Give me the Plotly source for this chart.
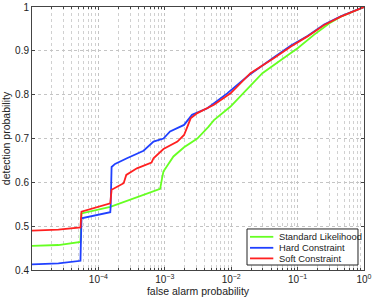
import plotly.graph_objects as go

# Standard Likelihood
fa_std = [1e-5, 2.5e-5, 5.37e-5, 5.56e-5, 1.51e-4, 6.03e-4, 8.51e-4, 9.12e-4, 9.55e-4,
          1.07e-3, 1.35e-3, 1.95e-3, 3.09e-3, 4.57e-3, 5.5e-3, 9.77e-3, 1.38e-2, 1.86e-2,
          2.95e-2, 5.62e-2, 0.1, 0.178, 0.302, 0.447, 0.708, 1.0]
pd_std = [0.455, 0.457, 0.464, 0.529, 0.544, 0.577, 0.585, 0.610, 0.625,
          0.636, 0.659, 0.680, 0.700, 0.727, 0.742, 0.773, 0.796, 0.818,
          0.849, 0.879, 0.906, 0.937, 0.963, 0.978, 0.991, 1.0]

# Hard Constraint
fa_hard = [1e-5, 2.5e-5, 5.37e-5, 5.56e-5, 1.51e-4, 1.53e-4, 1.58e-4, 1.78e-4, 2.69e-4,
           4.79e-4, 6.76e-4, 9.55e-4, 1.2e-3, 1.95e-3, 2.57e-3, 4.37e-3, 8.71e-3,
           1.86e-2, 4.37e-2, 7.94e-2, 0.141, 0.251, 0.447, 0.708, 1.0]
pd_hard = [0.413, 0.415, 0.421, 0.518, 0.532, 0.545, 0.635, 0.642, 0.655,
           0.672, 0.693, 0.700, 0.716, 0.731, 0.754, 0.769, 0.803,
           0.845, 0.885, 0.912, 0.934, 0.960, 0.979, 0.991, 1.0]

# Soft Constraint
fa_soft = [1e-5, 2.5e-5, 5.37e-5, 5.56e-5, 1.51e-4, 1.58e-4, 2.4e-4, 2.51e-4, 2.63e-4,
           3.8e-4, 6.31e-4, 6.76e-4, 9.55e-4, 1.55e-3, 1.95e-3, 2.19e-3, 2.45e-3,
           3.09e-3, 5.5e-3, 9.77e-3, 1.95e-2, 4.37e-2, 7.94e-2, 0.141, 0.251, 0.447, 0.708, 1.0]
pd_soft = [0.490, 0.492, 0.497, 0.533, 0.552, 0.583, 0.598, 0.610, 0.617,
           0.632, 0.645, 0.655, 0.676, 0.693, 0.708, 0.727, 0.746,
           0.758, 0.777, 0.803, 0.849, 0.883, 0.910, 0.933, 0.959, 0.978, 0.991, 1.0]

series_names = ["Standard Likelihood", "Hard Constraint", "Soft Constraint"]
series_colors = ["#66ff22", "#2040ff", "#ff2020"]

x_tickvals = [1e-4, 1e-3, 1e-2, 1e-1, 1]
x_ticktext = ["10<sup>\u22124</sup>", "10<sup>\u22123</sup>", "10<sup>\u22122</sup>",
              "10<sup>\u22121</sup>", "10<sup>0</sup>"]
y_tickvals = [0.4, 0.5, 0.6, 0.7, 0.8, 0.9, 1.0]
y_ticktext = ["0.4", "0.5", "0.6", "0.7", "0.8", "0.9", "1"]

minor_vals = [m * 10 ** e for e in range(-5, 0) for m in range(2, 10)]

fig = go.Figure()
for fa, pdv, name, col in zip([fa_std, fa_hard, fa_soft], [pd_std, pd_hard, pd_soft],
                              series_names, series_colors):
    fig.add_trace(go.Scatter(x=fa, y=pdv, mode="lines", name=name, showlegend=False,
                             line=dict(color=col, width=1.8)))

axis_common = dict(showline=True, linecolor="#444", linewidth=1, mirror="ticks",
                   ticks="inside", ticklen=3, tickcolor="#444",
                   showgrid=True, gridcolor="#c4c4c4", griddash="dot", gridwidth=1,
                   zeroline=False, tickfont=dict(size=10, color="#222"))

fig.update_xaxes(type="log", range=[-5, 0], tickmode="array", tickvals=x_tickvals,
                 ticktext=x_ticktext,
                 minor=dict(tickmode="array", tickvals=minor_vals, ticks="inside", ticklen=2,
                            tickcolor="#444", showgrid=True, gridcolor="#d0d0d0", griddash="dot"),
                 title=dict(text="false alarm probability", font=dict(size=10.5, color="#222"),
                            standoff=2),
                 **axis_common)
fig.update_yaxes(range=[0.4, 1.0], tickmode="array", tickvals=y_tickvals, ticktext=y_ticktext,
                 title=dict(text="detection probability", font=dict(size=10.5, color="#222"),
                            standoff=4),
                 **axis_common)

# Compact MATLAB-style legend box (paper coordinates = plot area)
box = dict(x0=0.6476, x1=0.9819, y0=0.019, y1=0.156)
shapes = [dict(type="rect", xref="paper", yref="paper", **box,
               line=dict(color="#222", width=1), fillcolor="white", layer="above")]
annotations = []
item_y = [0.1262, 0.0844, 0.0441]
for yy, name, col in zip(item_y, series_names, series_colors):
    shapes.append(dict(type="line", xref="paper", yref="paper", x0=0.6566, x1=0.7268,
                       y0=yy, y1=yy, line=dict(color=col, width=1.8), layer="above"))
    annotations.append(dict(xref="paper", yref="paper", x=0.7370, y=yy, xanchor="left",
                            yanchor="middle", text=name, showarrow=False,
                            font=dict(size=9.4, color="#222")))

fig.update_layout(
    width=374, height=299,
    margin=dict(l=32, r=10, t=7, b=29, autoexpand=False),
    paper_bgcolor="white", plot_bgcolor="white",
    font=dict(family="Liberation Sans, Arial, sans-serif", size=10, color="#222"),
    showlegend=False,
    shapes=shapes,
    annotations=annotations,
)

fig.write_html("out.html", config={"displayModeBar": False},
               post_script="document.body.style.margin='0';document.body.style.overflow='hidden';")
